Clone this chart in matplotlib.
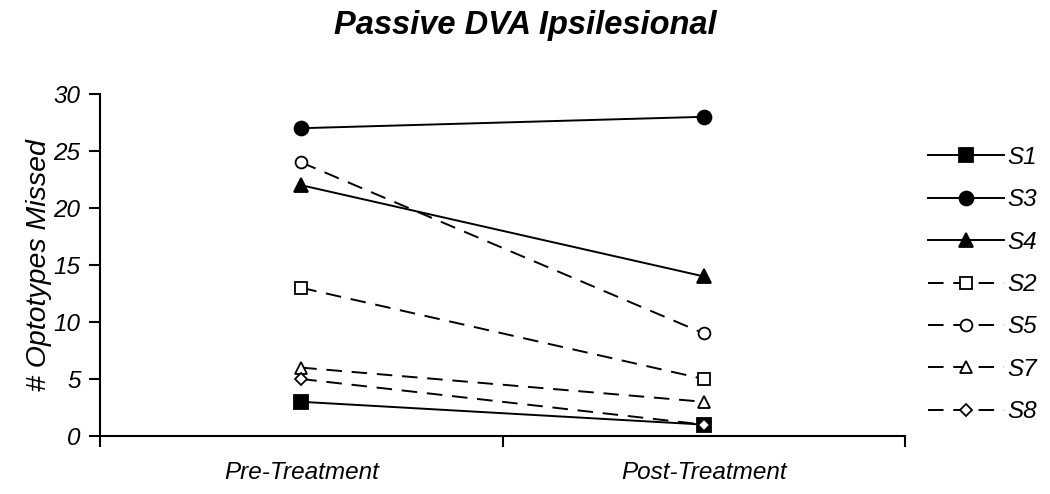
import matplotlib
matplotlib.use("Agg")
import matplotlib.pyplot as plt
from matplotlib.ticker import FixedLocator

plt.rcParams["font.family"] = ["Liberation Sans", "DejaVu Sans"]

phases = ["Pre-Treatment", "Post-Treatment"]
subjects = ["S1", "S3", "S4", "S2", "S5", "S7", "S8"]
values = {
    "S1": [3, 1],
    "S3": [27, 28],
    "S4": [22, 14],
    "S2": [13, 5],
    "S5": [24, 9],
    "S7": [6, 3],
    "S8": [5, 1],
}
markers = {"S1": "s", "S3": "o", "S4": "^", "S2": "s", "S5": "o", "S7": "^", "S8": "D"}
filled = {"S1": True, "S3": True, "S4": True, "S2": False, "S5": False, "S7": False, "S8": False}

fig = plt.figure(figsize=(10.5, 4.94), dpi=100)
ax = fig.add_axes([0.0952, 0.1174, 0.7668, 0.6923])

xpos = [0.5, 1.5]
for s in subjects:
    ls = "-" if filled[s] else (0, (8, 5))
    ms = 10 if filled[s] else 8.5
    if markers[s] == "D":
        ms = 6.5
    ax.plot(xpos, values[s], color="black", linestyle=ls, linewidth=1.4,
            marker=markers[s], markersize=ms,
            markerfacecolor="black" if filled[s] else "white",
            markeredgecolor="black", markeredgewidth=1.3, label=s)

ax.set_xlim(0, 2)
ax.set_ylim(0, 30)
ax.set_yticks(range(0, 31, 5))
ax.xaxis.set_major_locator(FixedLocator([0, 1, 2]))
ax.xaxis.set_minor_locator(FixedLocator(xpos))
ax.set_xticklabels([])
ax.set_xticklabels(phases, minor=True)
ax.tick_params(axis="x", which="major", direction="out", length=8, width=1.5)
ax.tick_params(axis="x", which="minor", length=0, pad=18, labelsize=17.5)
ax.tick_params(axis="y", direction="out", length=8, width=1.5, labelsize=17.5, pad=6)
for lab in ax.get_yticklabels() + ax.get_xticklabels(minor=True):
    lab.set_fontstyle("italic")
for side in ["top", "right"]:
    ax.spines[side].set_visible(False)
for side in ["left", "bottom"]:
    ax.spines[side].set_linewidth(1.5)

ax.set_ylabel("# Optotypes Missed", fontsize=20.5, fontstyle="italic", labelpad=1)
fig.suptitle("Passive DVA Ipsilesional", fontsize=23.5, fontweight="bold",
             fontstyle="italic", x=0.5, y=0.98)

leg = ax.legend(loc="center left", bbox_to_anchor=(0.884, 0.424),
                bbox_transform=fig.transFigure, frameon=False,
                prop={"size": 17.5, "style": "italic"}, handlelength=3.1,
                labelspacing=0.8, handletextpad=0.15, borderpad=0, borderaxespad=0)

fig.savefig("out.png", dpi=100)
